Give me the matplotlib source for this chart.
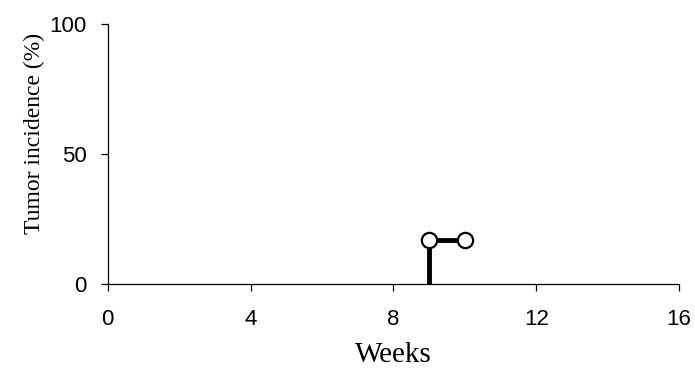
import matplotlib.pyplot as plt

# tumor incidence over time
weeks = [9, 9, 10]
incidence = [0, 16.7, 16.7]
xticks = [0, 4, 8, 12, 16]
yticks = [0, 50, 100]

fig = plt.figure(figsize=(6.95, 3.72), dpi=100)
ax = fig.add_axes([0.155, 0.237, 0.822, 0.699])

ax.plot(weeks, incidence, color="black", lw=3.5, solid_capstyle="butt",
        marker="o", markersize=11, markerfacecolor="white",
        markeredgecolor="black", markeredgewidth=1.6, markevery=[1, 2],
        clip_on=False, zorder=3)

ax.set_xlim(0, 16)
ax.set_ylim(0, 100)
ax.set_xticks(xticks)
ax.set_yticks(yticks)
ax.spines["top"].set_visible(False)
ax.spines["right"].set_visible(False)
for sp in ["left", "bottom"]:
    ax.spines[sp].set_linewidth(0.9)
ax.tick_params(direction="out", length=5, width=0.9, labelsize=16)
ax.tick_params(axis="x", pad=13)
ax.tick_params(axis="y", pad=10)
for lab in ax.get_xticklabels() + ax.get_yticklabels():
    lab.set_family("Liberation Sans")

ax.set_xlabel("Weeks", family="Liberation Serif", fontsize=21, labelpad=9)
ax.set_ylabel("Tumor incidence (%)", family="Liberation Serif", fontsize=17)
ax.yaxis.set_label_coords(-0.11, 0.58)

fig.savefig("out.png", dpi=100)
